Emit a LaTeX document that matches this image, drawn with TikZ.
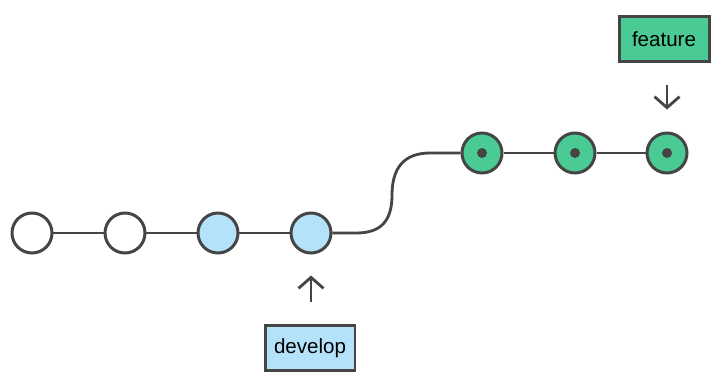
\documentclass[tikz,border=0pt]{standalone}
\usepackage{fontspec}
\setmainfont{Liberation Sans}
\usetikzlibrary{positioning,arrows.meta}
\definecolor{devblue}{HTML}{B5E2FB}
\definecolor{featgreen}{HTML}{4ACB93}
\definecolor{linegray}{HTML}{454545}

\begin{document}
\begin{tikzpicture}
    \tikzset{x=0.02cm,y=-0.02cm,every path/.style={>={Straight Barb[length=0.22cm,width=0.5cm]}},
      commit/.style={circle,draw=linegray,line width=1.7pt,minimum size=0.8cm,inner sep=0pt,fill=white},
      branch box/.style={draw=linegray,line width=1.7pt,minimum width=1.8cm,minimum height=0.9cm,font=\fontsize{11.7}{14}\selectfont},
      link/.style={draw=linegray,line width=1.6pt}}
    \useasboundingbox (0,0) rectangle (712,372);
    \node [commit]                (c1) at (32,233)  {};
    \node [commit]                (c2) at (125,233) {};
    \node [commit,fill=devblue]   (d1) at (218,233) {};
    \node [commit,fill=devblue]   (d2) at (311,233) {};
    \node [commit,fill=featgreen] (g1) at (482,153) {};
    \node [commit,fill=featgreen] (g2) at (575,153) {};
    \node [commit,fill=featgreen] (g3) at (667,153) {};
    \node [branch box,fill=featgreen] (feature) at (664,39)  {feature};
    \node [branch box,fill=devblue]   (develop) at (310,348) {develop};
    \draw[link] (c1) -- (c2);
    \draw[link] (c2) -- (d1);
    \draw[link] (d1) -- (d2);
    \draw[link] (d2.east) -- (356,233) .. controls (380,233) and (392,222) .. (392,195)
        .. controls (392,168) and (404,153) .. (430,153) -- (g1.west);
    \draw[link] (g1) -- (g2);
    \draw[link] (g2) -- (g3);
    % dots in the feature commits
    \foreach \g in {g1,g2,g3}
      \fill[linegray] (\g) circle (0.1cm);
    \draw[link,->,shorten <=0.44cm,shorten >=0.44cm] (feature.south -| g3) -- (g3.north);
    \draw[link,->,shorten <=0.44cm,shorten >=0.42cm] (develop.north -| d2) -- (d2.south);
\end{tikzpicture}
\end{document}
